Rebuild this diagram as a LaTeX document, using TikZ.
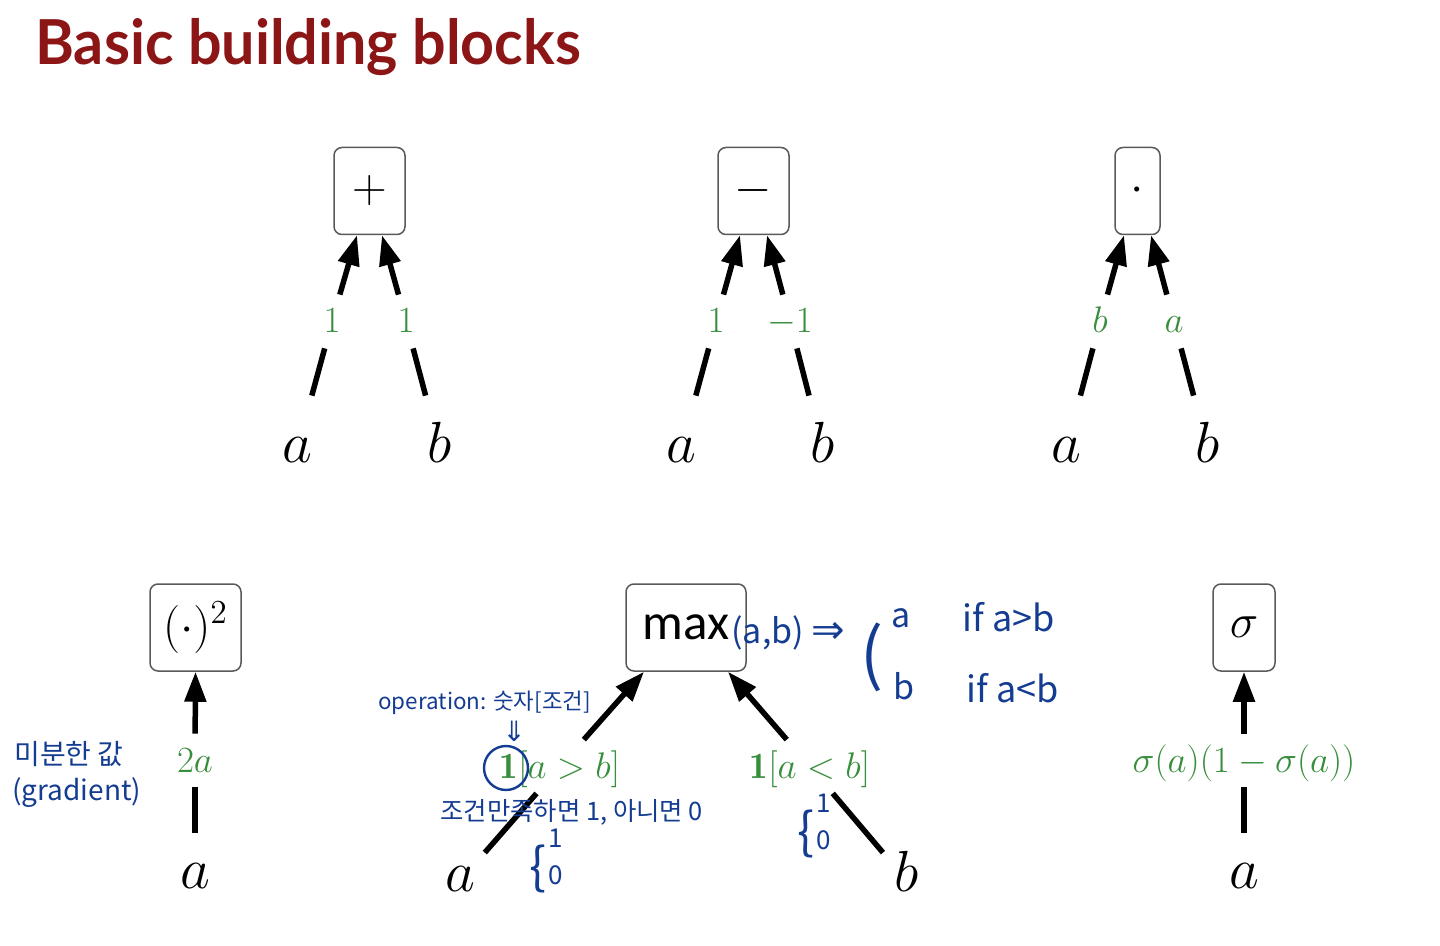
\documentclass[tikz,border=0pt]{standalone}
\usepackage{fix-cm}
\usepackage{fontspec}
\usetikzlibrary{arrows.meta}
\newfontfamily\titlefont{Lato}
\newfontfamily\hand{Noto Sans CJK KR}
\newfontfamily\symfont{DejaVu Sans}
\newfontfamily\maxfont{Carlito}
\definecolor{titlered}{RGB}{140,21,21}
\definecolor{gradgreen}{RGB}{56,142,60}
\definecolor{inkblue}{RGB}{20,60,145}
\begin{document}
\begin{tikzpicture}[x=0.5pt,y=-0.5pt,
  box/.style={draw=black!65, line width=0.75pt, rounded corners=4pt, minimum height=43.5pt, inner sep=0pt, font=\fontsize{24}{24}\selectfont},
  leaf/.style={font=\fontsize{29}{29}\selectfont, inner sep=2pt, minimum width=26pt, anchor=base},
  leaftop/.style={leaf, text height=31.5pt, text depth=18.5pt},
  leafmax/.style={leaf, text height=17pt, text depth=7pt},
  leafvert/.style={leaf, text height=25.5pt, text depth=14.5pt},
  glab/.style={text=gradgreen, font=\fontsize{18.5}{18.5}\selectfont, inner sep=0pt, minimum width=12pt, text height=19pt, text depth=7.5pt, anchor=base},
  conn/.style={line width=2.75pt},
  arr/.style={conn, -{Triangle[length=15pt,width=10.5pt]}},
  note/.style={text=inkblue, font=\hand\fontsize{12}{12}\selectfont, inner sep=0pt},
  bracenote/.style={note, font=\hand\fontsize{25}{25}\selectfont},
]
\useasboundingbox (0,0) rectangle (1440,946);

% title
\node[anchor=base west, inner sep=0pt, text=titlered, font=\titlefont\bfseries\fontsize{31}{31}\selectfont] (title) at (35,65) {\scalebox{0.955}[1]{Basic building blocks}};

% ---------- plus ----------
\node[box, minimum width=35.5pt] (plus) at (369.5,191) {$+$};
\node[leaftop] (pa) at (297,463) {$a$};
\node[leaftop] (pb) at (440,463) {$b$};
\node[glab] (pga) at (332,333) {$1$};
\node[glab] (pgb) at (406,333) {$1$};
\draw[conn] (pa) -- (pga);
\draw[arr] (pga) -- ([xshift=-6.25pt]plus.south);
\draw[conn] (pb) -- (pgb);
\draw[arr] (pgb) -- ([xshift=6.25pt]plus.south);

% ---------- minus ----------
\node[box, minimum width=35.5pt] (minus) at (753.5,191) {$-$};
\node[leaftop] (ma) at (681,463) {$a$};
\node[leaftop] (mb) at (823,463) {$b$};
\node[glab] (mga) at (716,333) {$1$};
\node[glab] (mgb) at (790,333) {$-1$};
\draw[conn] (ma) -- (mga);
\draw[arr] (mga) -- ([xshift=-6.75pt]minus.south);
\draw[conn] (mb) -- (mgb);
\draw[arr] (mgb) -- ([xshift=6.75pt]minus.south);

% ---------- times ----------
\node[box, minimum width=22.5pt] (dot) at (1137.5,191) {$\cdot$};
\node[leaftop] (da) at (1066,463) {$a$};
\node[leaftop] (db) at (1208,463) {$b$};
\node[glab] (dga) at (1100,333) {$b$};
\node[glab] (dgb) at (1174,333) {$a$};
\draw[conn] (da) -- (dga);
\draw[arr] (dga) -- ([xshift=-6.75pt]dot.south);
\draw[conn] (db) -- (dgb);
\draw[arr] (dgb) -- ([xshift=6.75pt]dot.south);

% ---------- square ----------
\node[box, minimum width=45.5pt] (sq) at (195.5,627.5) {$(\cdot)^2$};
\node[leafvert] (sa) at (195,888) {$a$};
\node[glab] (sga) at (195,772) {$2a$};
\draw[conn] (sa) -- (sga);
\draw[arr] (sga) -- (sq.south);

% ---------- max ----------
\node[box, minimum width=60pt, font=\maxfont\fontsize{25.5}{25.5}\selectfont] (mx) at (686,627.5) {max};
\node[leafmax] (xa) at (460,891) {$a$};
\node[leafmax] (xb) at (907,891) {$b$};
\node[glab] (xga) at (560,778) {$\mathbf{1}[a>b]$};
\node[glab] (xgb) at (810,778) {$\mathbf{1}[a<b]$};
\draw[conn] (xa) -- (xga);
\draw[arr] (xga) -- ([xshift=-21pt]mx.south);
\draw[conn] (xb) -- (xgb);
\draw[arr] (xgb) -- ([xshift=21pt]mx.south);

% ---------- sigma ----------
\node[box, minimum width=31pt] (sg) at (1244,627.5) {$\sigma$};
\node[leafvert] (ga) at (1244,888) {$a$};
\node[glab] (gga) at (1244,772) {$\sigma(a)(1-\sigma(a))$};
\draw[conn] (ga) -- (gga);
\draw[arr] (gga) -- (sg.south);

% ---------- handwritten notes ----------
\node[note, anchor=west, font=\hand\fontsize{14}{14}\selectfont] (n1) at (14,754) {미분한 값};
\node[note, anchor=west, font=\hand\fontsize{14}{14}\selectfont] (n2) at (12,793) {(gradient)};
\node[note, anchor=west, font=\hand\fontsize{11.2}{11.2}\selectfont] (n3) at (378,703) {operation: 숫자[조건]};
\node[note, font=\symfont\fontsize{14}{14}\selectfont] (n4) at (514,731) {⇓};
\draw[inkblue, line width=1.2pt] (506,768) circle[radius=11pt];
\node[note, anchor=west, font=\hand\fontsize{12.7}{12.7}\selectfont] (n5) at (440,812) {조건만족하면 1, 아니면 0};
\node[bracenote] (n6) at (546,861) {\{\kern1pt\shortstack[l]{\fontsize{13}{13}\selectfont 1\\[6pt]\fontsize{13}{13}\selectfont 0}};
\node[bracenote] (n7) at (814,826) {\{\kern1pt\shortstack[l]{\fontsize{13}{13}\selectfont 1\\[6pt]\fontsize{13}{13}\selectfont 0}};
\node[note, anchor=west, font=\hand\fontsize{17}{17}\selectfont] (n8) at (731,633) {(a,b) {\symfont\fontsize{20}{20}\selectfont ⇒}};
\node[note, font=\hand\fontsize{34}{34}\selectfont] (n9) at (872,657) {(};
\node[note, font=\hand\fontsize{17}{17}\selectfont] (n10) at (901,618) {a};
\node[note, font=\hand\fontsize{17}{17}\selectfont] (n11) at (904,686) {b};
\node[note, anchor=west, font=\hand\fontsize{18}{18}\selectfont] (n12) at (962,617) {if a>b};
\node[note, anchor=west, font=\hand\fontsize{18}{18}\selectfont] (n13) at (966,688) {if a<b};
\end{tikzpicture}
\end{document}
